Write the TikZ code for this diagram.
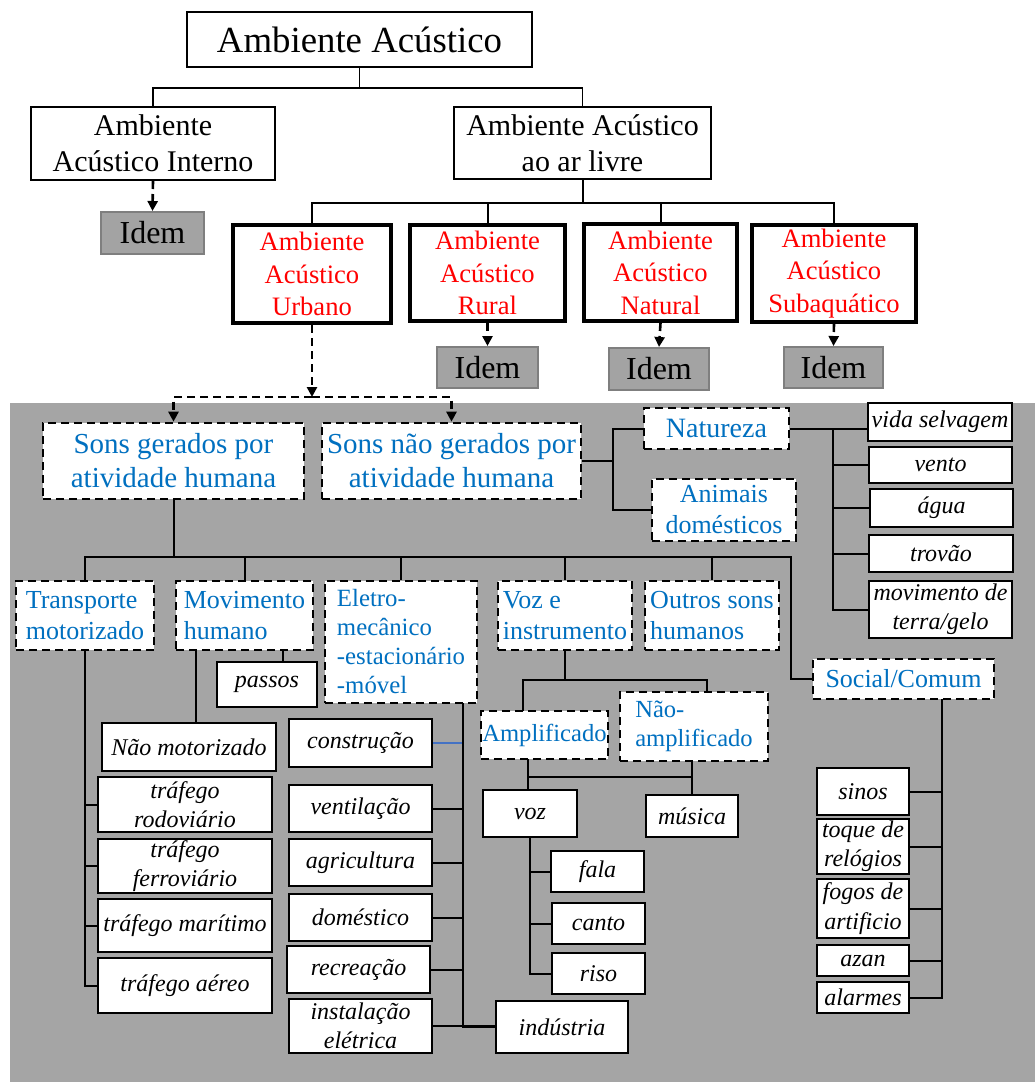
\documentclass[tikz,border=0pt]{standalone}
\usepackage{fontspec}
\setmainfont{Liberation Serif}
\usetikzlibrary{arrows.meta,calc}
\definecolor{bggray}{HTML}{A5A5A5}
\definecolor{idemgray}{HTML}{A3A3A3}
\definecolor{idemedge}{HTML}{7F7F7F}
\definecolor{sonsblue}{HTML}{0070C0}
\definecolor{linkblue}{HTML}{4472C4}
\tikzset{
  every picture/.style={
    line width=1pt,
    >={Triangle[width=5pt, length=5pt]}
  },
  sz/.style 2 args={minimum width=#1*0.5pt, minimum height=#2*0.5pt},
  box/.style={
    draw, fill=white, inner sep=0pt, align=center
  },
  topbox/.style={box, font=\fontsize{15}{18}\selectfont},
  redbox/.style={
    box, line width=2pt, text=red,
    font=\fontsize{13.3}{16.2}\selectfont
  },
  idembox/.style={
    draw=idemedge, fill=idemgray, inner sep=0pt,
    font=\fontsize{16}{19}\selectfont
  },
  dashbox/.style={
    box, dash pattern=on 4pt off 2.5pt, line width=1.3pt,
    text=sonsblue, font=\fontsize{13}{15.5}\selectfont
  },
  leafbox/.style={
    box, font=\fontsize{12}{14.7}\selectfont\itshape
  },
  darrow/.style={
    ->, dash pattern=on 4pt off 2.5pt, line width=1.3pt
  }
}
\begin{document}
\begin{tikzpicture}[x=0.5pt, y=-0.5pt]
  \useasboundingbox (0,0) rectangle (1035,1082);
  \fill [bggray] (10,403) rectangle (1035,1082);

  % topo
  \node [box, sz={345}{55}, font=\fontsize{18.4}{22}\selectfont] (amb) at (359.5,39.5) {Ambiente Acústico};
  \node [topbox, sz={244}{73}] (interno) at (153,143.5) {Ambiente\\Acústico Interno};
  \node [topbox, sz={257}{72}] (livre) at (582.5,143) {Ambiente Acústico\\ao ar livre};
  \node [idembox, sz={103}{42}] (idemint) at (152.5,233) {Idem};
  \draw [line width=0.7pt] (amb.south) -- ++(0,20) -| (interno.north);
  \draw [line width=0.7pt] (amb.south) -- ++(0,20) -| (livre.north);
  \draw [darrow] (interno.south) -- (idemint.north);

  % ao ar livre
  \node [redbox, sz={158}{98}] (urbano) at (312,274) {Ambiente\\Acústico\\Urbano};
  \node [redbox, sz={155}{96}] (rural) at (487.5,273) {Ambiente\\Acústico\\Rural};
  \node [redbox, sz={153}{97}] (natural) at (660.5,272.5) {Ambiente\\Acústico\\Natural};
  \node [redbox, sz={164}{97}] (subaq) at (834,273.5) {Ambiente\\Acústico\\Subaquático};
  \draw (livre.south) -- ++(0,23) -| (urbano.north);
  \draw (livre.south) -- ++(0,23) -| (rural.north);
  \draw (livre.south) -- ++(0,23) -| (natural.north);
  \draw (livre.south) -- ++(0,23) -| (subaq.north);
  \node [idembox, sz={101}{41}] (idemrur) at (487.5,367.5) {Idem};
  \node [idembox, sz={100}{42}] (idemnat) at (659,369) {Idem};
  \node [idembox, sz={99}{41}] (idemsub) at (833.5,367.5) {Idem};
  \draw [darrow] (rural.south) -- (idemrur.north);
  \draw [darrow] (natural.south) -- (idemnat.north);
  \draw [darrow] (subaq.south) -- (idemsub.north);

  % urbano
  \node [dashbox, sz={261}{76}, font=\fontsize{14.5}{17}\selectfont] (gerados) at (173.5,461) {Sons gerados por\\atividade humana};
  \node [dashbox, sz={259}{76}, font=\fontsize{14.5}{17}\selectfont] (naogerados) at (451.5,461) {Sons não gerados por\\atividade humana};
  \coordinate (ux) at (312,397);
  \draw [darrow] (urbano.south) -- (ux);
  \draw [darrow] (ux) -| (gerados.north);
  \draw [darrow] (ux) -| (naogerados.north);

  % sons nao gerados
  \node [dashbox, sz={145}{41}, font=\fontsize{14}{16.5}\selectfont] (natureza) at (716.5,428.5) {Natureza};
  \node [dashbox, sz={144}{62}] (animais) at (724,510) {Animais\\domésticos};
  \draw (naogerados.east) -- ++(31,0) |- (natureza.west);
  \draw (naogerados.east) -- ++(31,0) |- (animais.west);
  \node [leafbox, sz={144}{38}] (vida) at (940,422) {vida selvagem};
  \node [leafbox, sz={143}{36}] (vento) at (940.5,465) {vento};
  \node [leafbox, sz={143}{38}] (agua) at (941.5,508) {água};
  \node [leafbox, sz={144}{37}] (trovao) at (941,553.5) {trovão};
  \node [leafbox, sz={143}{57}] (terra) at (940.5,609.5) {movimento de\\terra/gelo};
  \draw (natureza.east) -- (natureza.east -| vida.west);
  \draw (natureza.east) -- ++(43,0) |- (vento.west);
  \draw (natureza.east) -- ++(43,0) |- (agua.west);
  \draw (natureza.east) -- ++(43,0) |- (trovao.west);
  \draw (natureza.east) -- ++(43,0) |- (terra.west);

  % sons gerados
  \node [dashbox, sz={138}{69}, align=left] (transp) at (85,615.5) {Transporte\\motorizado};
  \node [dashbox, sz={137}{69}, align=left] (movhum) at (244.5,615.5) {Movimento\\humano};
  \node [dashbox, sz={152}{122}, align=left, font=\fontsize{12.4}{14.5}\selectfont] (eletro) at (401,642) {Eletro-\\mecânico\\-estacionário\\-móvel};
  \node [dashbox, sz={134}{69}, align=left] (vozinstr) at (565,615.5) {Voz e\\instrumento};
  \node [dashbox, sz={134}{69}, align=left] (outros) at (712,615.5) {Outros sons\\humanos};
  \node [dashbox, sz={181}{40}] (social) at (903.5,679) {Social/Comum};
  \coordinate (g0) at (173.5,557);
  \coordinate (g1) at (791,557);
  \draw (gerados.south) -- (g0) -| (transp.north);
  \draw (g0) -| (movhum.north);
  \draw (g0) -| (eletro.north);
  \draw (g0) -| (vozinstr.north);
  \draw (g0) -| (outros.north);
  \draw (g0) -- (g1) |- (social.west);

  % transporte e movimento
  \node [leafbox, sz={100}{45}] (passos) at (267,684.5) {passos};
  \node [leafbox, sz={174}{48}] (naomot) at (189,747) {Não motorizado};
  \node [leafbox, sz={174}{55}] (rodov) at (185,804.5) {tráfego\\rodoviário};
  \node [leafbox, sz={174}{54}] (ferrov) at (185,866) {tráfego\\ferroviário};
  \node [leafbox, sz={174}{53}] (marit) at (185,925.5) {tráfego marítimo};
  \node [leafbox, sz={174}{55}] (aereo) at (185,985.5) {tráfego aéreo};
  \coordinate (m0) at (196,650);
  \coordinate (p0) at (283,650);
  \draw (m0) -- (m0 |- naomot.north);
  \draw (p0) -- (p0 |- passos.north);
  \draw (transp.south) |- (rodov.west);
  \draw (transp.south) |- (ferrov.west);
  \draw (transp.south) |- (marit.west);
  \draw (transp.south) |- (aereo.west);

  % eletromecanico
  \node [leafbox, sz={143}{48}] (constr) at (360.5,743) {construção};
  \node [leafbox, sz={143}{47}] (ventil) at (360.5,808.5) {ventilação};
  \node [leafbox, sz={143}{47}] (agric) at (360.5,862.5) {agricultura};
  \node [leafbox, sz={143}{47}] (domest) at (360.5,917.5) {doméstico};
  \node [leafbox, sz={143}{47}] (recre) at (358.5,969.5) {recreação};
  \node [leafbox, sz={143}{54}] (instal) at (360.5,1026) {instalação\\elétrica};
  \node [leafbox, sz={132}{52}] (industria) at (562,1027) {indústria};
  \coordinate (e0) at (463,703);
  \draw [linkblue, line width=0.6pt] (constr.east) -- (constr.east -| e0);
  \draw (e0) |- (ventil.east);
  \draw (e0) |- (agric.east);
  \draw (e0) |- (domest.east);
  \draw (e0) |- (recre.east);
  \draw (e0) |- (industria.west);
  \draw (instal.east) -- (instal.east -| industria.west);

  % voz e instrumento
  \node [dashbox, sz={127}{48}, font=\fontsize{12.3}{14.5}\selectfont] (ampl) at (544.5,735) {Amplificado};
  \node [dashbox, sz={148}{69}, align=left, font=\fontsize{12.3}{14.5}\selectfont] (naoampl) at (694,726.5) {Não-\\amplificado};
  \coordinate (a0) at (523,711);
  \coordinate (n0) at (707,692);
  \draw (vozinstr.south) -- ++(0,29) -| (a0);
  \draw (vozinstr.south) -- ++(0,29) -| (n0);
  \node [leafbox, sz={94}{47}] (vozleaf) at (530,813.5) {voz};
  \node [leafbox, sz={92}{42}] (musica) at (692,816) {música};
  \coordinate (a1) at (528,759);
  \coordinate (vm) at (528,777);
  \draw (a1) -- (a1 |- vozleaf.north);
  \draw (musica.north |- naoampl.south) -- (musica.north);
  \draw (vm) -- (vm -| musica.north);
  \node [leafbox, sz={93}{41}] (fala) at (597.5,871.5) {fala};
  \node [leafbox, sz={93}{41}] (canto) at (598.5,923.5) {canto};
  \node [leafbox, sz={93}{41}] (riso) at (598.5,973.5) {riso};
  \draw (vozleaf.south) |- (fala.west);
  \draw (vozleaf.south) |- (canto.west);
  \draw (vozleaf.south) |- (riso.west);

  % social
  \node [leafbox, sz={92}{47}] (sinos) at (863,791.5) {sinos};
  \node [leafbox, sz={92}{55}] (toque) at (863,846.5) {toque de\\relógios};
  \node [leafbox, sz={92}{59}] (fogos) at (863,908.5) {fogos de\\artificio};
  \node [leafbox, sz={92}{31}] (azan) at (863,960.5) {azan};
  \node [leafbox, sz={92}{31}] (alarmes) at (863,997.5) {alarmes};
  \coordinate (s0) at (942,699);
  \draw (s0) |- (sinos.east);
  \draw (s0) |- (toque.east);
  \draw (s0) |- (fogos.east);
  \draw (s0) |- (azan.east);
  \draw (s0) |- (alarmes.east);
\end{tikzpicture}
\end{document}
